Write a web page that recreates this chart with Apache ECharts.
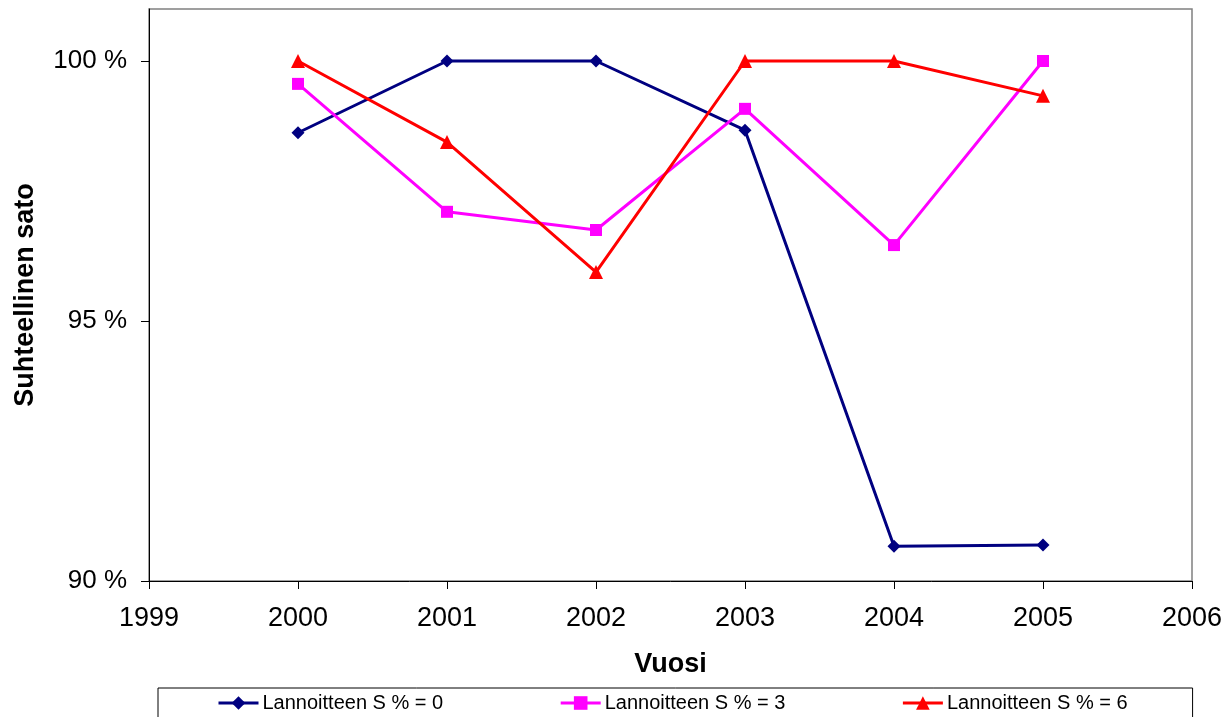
<!DOCTYPE html>
<html><head><meta charset="utf-8">
<script src="https://cdn.jsdelivr.net/npm/echarts@6/dist/echarts.min.js"></script>
<style>html,body{margin:0;padding:0;background:#fff}#c{width:1230px;height:717px}</style>
</head><body><div id="c"></div>
<script>
const years = [2000, 2001, 2002, 2003, 2004, 2005];
const seriesNames = ['Lannoitteen S % = 0', 'Lannoitteen S % = 3', 'Lannoitteen S % = 6'];
const s0 = [98.62, 100, 100, 98.67, 90.67, 90.69];
const s3 = [99.56, 97.10, 96.75, 99.08, 96.46, 100];
const s6 = [100, 98.44, 95.94, 100, 100, 99.33];
const yTicks = [90, 95, 100];
const xTicks = [1999, 2000, 2001, 2002, 2003, 2004, 2005, 2006];

const font = 'Liberation Sans, Arial, sans-serif';
const pair = arr => years.map((y, i) => [y, arr[i]]);
const chart = echarts.init(document.getElementById('c'));
chart.setOption({
  animation: false,
  backgroundColor: '#fff',
  textStyle: { fontFamily: font },
  grid: { left: 149, right: 38, top: 9, bottom: 136, show: true, borderColor: '#808080', borderWidth: 1.5, backgroundColor: 'transparent' },
  xAxis: {
    type: 'value', min: 1999, max: 2006, interval: 1,
    name: 'Vuosi', nameLocation: 'middle', nameGap: 70,
    nameTextStyle: { fontSize: 27, fontWeight: 'bold', color: '#000', fontFamily: font },
    axisLine: { show: true, lineStyle: { color: '#000', width: 1 } },
    axisTick: { show: true, length: 8, lineStyle: { color: '#000' } },
    axisLabel: { margin: 24, fontSize: 27, color: '#000', fontFamily: font, formatter: v => String(v) },
    splitLine: { show: false }
  },
  yAxis: {
    type: 'value', min: 90, max: 101, interval: 5,
    name: 'Suhteellinen sato', nameLocation: 'middle', nameGap: 110,
    nameTextStyle: { fontSize: 27, fontWeight: 'bold', color: '#000', fontFamily: font },
    axisLine: { show: true, lineStyle: { color: '#000', width: 1 } },
    axisTick: { show: true, length: 8, lineStyle: { color: '#000' }, customValues: yTicks },
    axisLabel: { margin: 22, fontSize: 26, color: '#000', fontFamily: font, customValues: yTicks, formatter: v => v + ' %' },
    splitLine: { show: false }
  },
  legend: {
    left: 158, bottom: -20, orient: 'horizontal',
    padding: [5, 65, 24, 59],
    itemGap: 116, itemWidth: 40, itemHeight: 17,
    borderColor: '#000', borderWidth: 1, backgroundColor: '#fff',
    lineStyle: { width: 3 },
    textStyle: { fontSize: 20, color: '#000', fontFamily: font, padding: [0, 0, 0, -1] },
    data: seriesNames
  },
  series: [
    { name: seriesNames[0], type: 'line', data: pair(s0), symbol: 'diamond', symbolSize: 13,
      lineStyle: { color: '#000080', width: 3 }, itemStyle: { color: '#000080' } },
    { name: seriesNames[1], type: 'line', data: pair(s3), symbol: 'rect', symbolSize: 12,
      lineStyle: { color: '#FF00FF', width: 3 }, itemStyle: { color: '#FF00FF' } },
    { name: seriesNames[2], type: 'line', data: pair(s6), symbol: 'triangle', symbolSize: 14,
      lineStyle: { color: '#FF0000', width: 3 }, itemStyle: { color: '#FF0000' } }
  ]
});
</script></body></html>
